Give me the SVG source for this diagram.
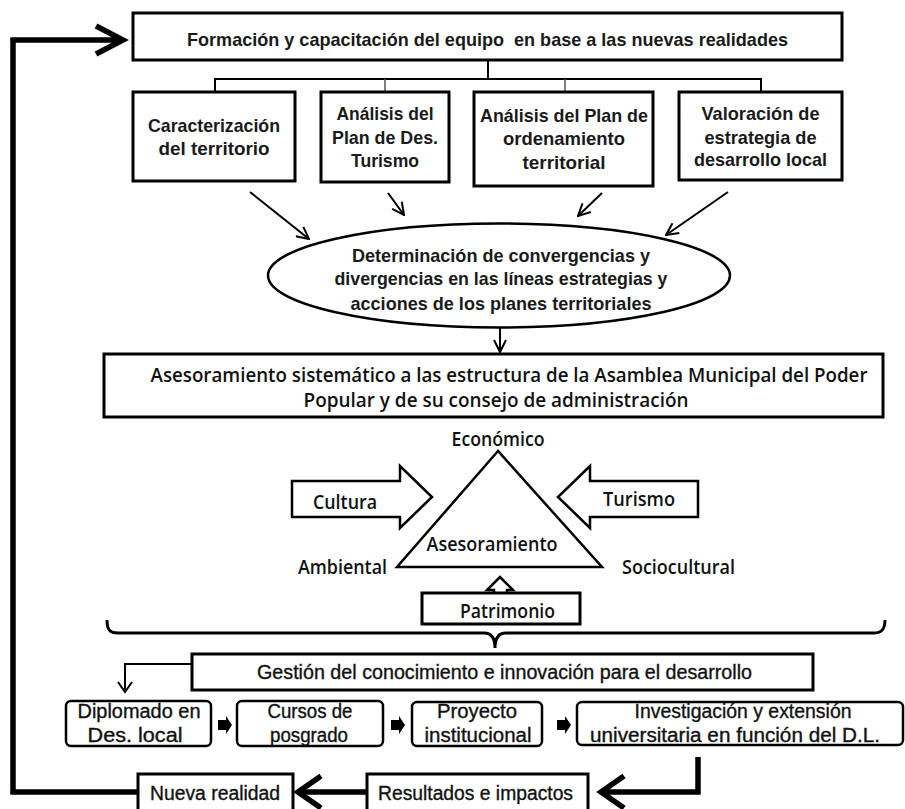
<svg xmlns="http://www.w3.org/2000/svg" width="905" height="809" viewBox="0 0 905 809">
<defs>
<marker id="v" viewBox="0 0 14 14" refX="13" refY="7" markerWidth="14" markerHeight="14" markerUnits="userSpaceOnUse" orient="auto">
<path d="M1,1 L13,7 L1,13" fill="none" stroke="#000" stroke-width="2"/>
</marker>
<style>
.box{fill:#fff;stroke:#000;stroke-width:3}
.rbox{fill:#fff;stroke:#000;stroke-width:2.5}
.ln{fill:none;stroke:#000;stroke-width:2}
.thin{fill:none;stroke:#555;stroke-width:1.5}
.thick{fill:none;stroke:#000;stroke-width:5.5}
.t{font-family:"Liberation Sans",Arial,sans-serif;font-weight:bold;font-size:19px;fill:#1a1a1a;text-anchor:middle}
.m{font-family:"Open Sans","Liberation Sans",sans-serif;font-weight:600;font-size:19px;fill:#111;text-anchor:middle}
.r{font-family:"Liberation Sans",Arial,sans-serif;font-size:20px;fill:#111;stroke:#111;stroke-width:0.35;text-anchor:middle}
.shape{fill:#fff;stroke:#000;stroke-width:2.5;stroke-linejoin:miter}
.blk{fill:#000}
</style>
</defs>
<rect width="905" height="809" fill="#fff"/>

<g id="connectors">
<path class="ln" d="M488,60 L488,79 M215,92 L215,79 L761,79 L761,92"/>
<path class="thin" d="M385,79 L385,92 M565,79 L565,92"/>
<line class="ln" x1="250" y1="192" x2="309" y2="239" marker-end="url(#v)"/>
<line class="ln" x1="388" y1="193" x2="404" y2="215" marker-end="url(#v)"/>
<line class="ln" x1="602" y1="193" x2="578" y2="216" marker-end="url(#v)"/>
<line class="ln" x1="728" y1="192" x2="666" y2="235" marker-end="url(#v)"/>
<line class="ln" x1="500" y1="328" x2="500" y2="352" marker-end="url(#v)"/>
<path d="M107,620 C107,630 110,633 118,633 L484,633 C491,633 495,637 495,648 C495,637 499,633 506,633 L874,633 C881,633 885,630 885,620" fill="none" stroke="#000" stroke-width="3"/>
<path class="ln" d="M192,664 L125,664 L125,690"/>
<path class="ln" d="M118,682 L125,692 L132,682"/>
<path class="blk" d="M218,720 L226,720 L226,716 L232,725 L226,734 L226,730 L218,730 Z"/>
<path class="blk" d="M391,720 L399,720 L399,716 L405,725 L399,734 L399,730 L391,730 Z"/>
<path class="blk" d="M557,720 L565,720 L565,716 L571,725 L565,734 L565,730 L557,730 Z"/>
<path class="thick" d="M698,757 L698,792 L603,792"/>
<path class="thick" d="M624,776 L601,792 L624,808"/>
<path class="thick" d="M367,792 L298,792"/>
<path class="thick" d="M321,776 L298,792 L321,808"/>
<path class="thick" d="M138,792 L13,792 L13,40 L122,40"/>
<path class="thick" d="M96,26 L123,40 L96,54"/>
</g>

<g id="n-formacion">
<rect class="box" x="133" y="13" width="709" height="47"/>
<text class="t" x="487.5" y="46" textLength="601" lengthAdjust="spacingAndGlyphs" xml:space="preserve">Formación y capacitación del equipo  en base a las nuevas realidades</text>
</g>

<g id="n-caracterizacion">
<rect class="box" x="133" y="92" width="162" height="89"/>
<text class="t" x="214" y="132" textLength="132" lengthAdjust="spacingAndGlyphs">Caracterización</text>
<text class="t" x="214" y="155" textLength="111" lengthAdjust="spacingAndGlyphs">del territorio</text>
</g>

<g id="n-plan-turismo">
<rect class="box" x="321" y="92" width="128" height="90"/>
<text class="t" x="385" y="120" textLength="97" lengthAdjust="spacingAndGlyphs">Análisis del</text>
<text class="t" x="385" y="144" textLength="106" lengthAdjust="spacingAndGlyphs">Plan de Des.</text>
<text class="t" x="385" y="167" textLength="68" lengthAdjust="spacingAndGlyphs">Turismo</text>
</g>

<g id="n-plan-ordenamiento">
<rect class="box" x="474" y="92" width="179" height="94"/>
<text class="t" x="564" y="122" textLength="168" lengthAdjust="spacingAndGlyphs">Análisis del Plan de</text>
<text class="t" x="564" y="145" textLength="122" lengthAdjust="spacingAndGlyphs">ordenamiento</text>
<text class="t" x="564" y="169" textLength="83" lengthAdjust="spacingAndGlyphs">territorial</text>
</g>

<g id="n-valoracion">
<rect class="box" x="679" y="92" width="163" height="88"/>
<text class="t" x="760.5" y="120" textLength="118" lengthAdjust="spacingAndGlyphs">Valoración de</text>
<text class="t" x="760.5" y="144" textLength="112" lengthAdjust="spacingAndGlyphs">estrategia de</text>
<text class="t" x="760.5" y="166" textLength="133" lengthAdjust="spacingAndGlyphs">desarrollo local</text>
</g>

<g id="n-determinacion">
<ellipse cx="499" cy="275.5" rx="231" ry="52" fill="#fff" stroke="#000" stroke-width="2.5"/>
<text class="t" x="501" y="262" textLength="298" lengthAdjust="spacingAndGlyphs">Determinación de convergencias y</text>
<text class="t" x="501" y="285" textLength="333" lengthAdjust="spacingAndGlyphs">divergencias en las líneas estrategias y</text>
<text class="t" x="501" y="310" textLength="301" lengthAdjust="spacingAndGlyphs">acciones de los planes territoriales</text>
</g>

<g id="n-asesoramiento-sistematico">
<rect class="box" x="104" y="354" width="779" height="63"/>
<text class="m" x="509" y="382" textLength="717" lengthAdjust="spacingAndGlyphs">Asesoramiento sistemático a las estructura de la Asamblea Municipal del Poder</text>
<text class="m" x="496" y="407" textLength="385" lengthAdjust="spacingAndGlyphs">Popular y de su consejo de administración</text>
</g>

<g id="n-triangulo">
<polygon class="shape" points="498,451 397,567 602,567"/>
<text class="m" x="498" y="446" textLength="93" lengthAdjust="spacingAndGlyphs">Económico</text>
<text class="m" x="492" y="551" textLength="131" lengthAdjust="spacingAndGlyphs">Asesoramiento</text>
<text class="m" x="342.5" y="574" textLength="89" lengthAdjust="spacingAndGlyphs">Ambiental</text>
<text class="m" x="678.5" y="574" textLength="113" lengthAdjust="spacingAndGlyphs">Sociocultural</text>
</g>

<g id="n-cultura">
<polygon class="shape" points="292,481 400,481 400,466 432,497 400,528 400,517 292,517"/>
<text class="m" x="345" y="509" textLength="64" lengthAdjust="spacingAndGlyphs">Cultura</text>
</g>

<g id="n-turismo">
<polygon class="shape" points="698,481 590,481 590,466 558,497 590,528 590,517 698,517"/>
<text class="m" x="639" y="506" textLength="72" lengthAdjust="spacingAndGlyphs">Turismo</text>
</g>

<g id="n-patrimonio">
<polygon class="shape" points="500,577 487,590 494,590 494,594 507,594 507,590 513,590"/>
<rect class="box" x="422" y="593" width="158" height="31" stroke-width="2.5"/>
<text class="m" x="507.5" y="618" textLength="95" lengthAdjust="spacingAndGlyphs">Patrimonio</text>
</g>

<g id="n-gestion">
<rect class="box" x="192" y="654" width="621" height="36"/>
<text class="r" x="504.5" y="679" textLength="495" lengthAdjust="spacingAndGlyphs">Gestión del conocimiento e innovación para el desarrollo</text>
</g>

<g id="n-diplomado">
<rect class="rbox" x="66" y="701" width="145" height="45" rx="5"/>
<text class="r" x="139" y="718" textLength="123" lengthAdjust="spacingAndGlyphs">Diplomado en</text>
<text class="r" x="135" y="742" textLength="95" lengthAdjust="spacingAndGlyphs">Des. local</text>
</g>

<g id="n-cursos">
<rect class="rbox" x="237" y="701" width="146" height="45" rx="5"/>
<text class="r" x="310" y="718" textLength="85" lengthAdjust="spacingAndGlyphs">Cursos de</text>
<text class="r" x="309" y="742" textLength="78" lengthAdjust="spacingAndGlyphs">posgrado</text>
</g>

<g id="n-proyecto">
<rect class="rbox" x="412" y="702" width="130" height="44" rx="5"/>
<text class="r" x="477" y="718" textLength="80" lengthAdjust="spacingAndGlyphs">Proyecto</text>
<text class="r" x="478" y="742" textLength="107" lengthAdjust="spacingAndGlyphs">institucional</text>
</g>

<g id="n-investigacion">
<rect class="rbox" x="577" y="702" width="326" height="43" rx="5"/>
<text class="r" x="743" y="718" textLength="217" lengthAdjust="spacingAndGlyphs">Investigación y extensión</text>
<text class="r" x="735" y="742" textLength="290" lengthAdjust="spacingAndGlyphs">universitaria en función del D.L.</text>
</g>

<g id="n-resultados">
<rect class="box" x="367" y="774" width="221" height="42" stroke-width="2.5"/>
<text class="r" x="475.5" y="800" textLength="195" lengthAdjust="spacingAndGlyphs">Resultados e impactos</text>
</g>

<g id="n-nueva">
<rect class="box" x="138" y="774" width="155" height="42" stroke-width="2.5"/>
<text class="r" x="215" y="800" textLength="130" lengthAdjust="spacingAndGlyphs">Nueva realidad</text>
</g>
</svg>
